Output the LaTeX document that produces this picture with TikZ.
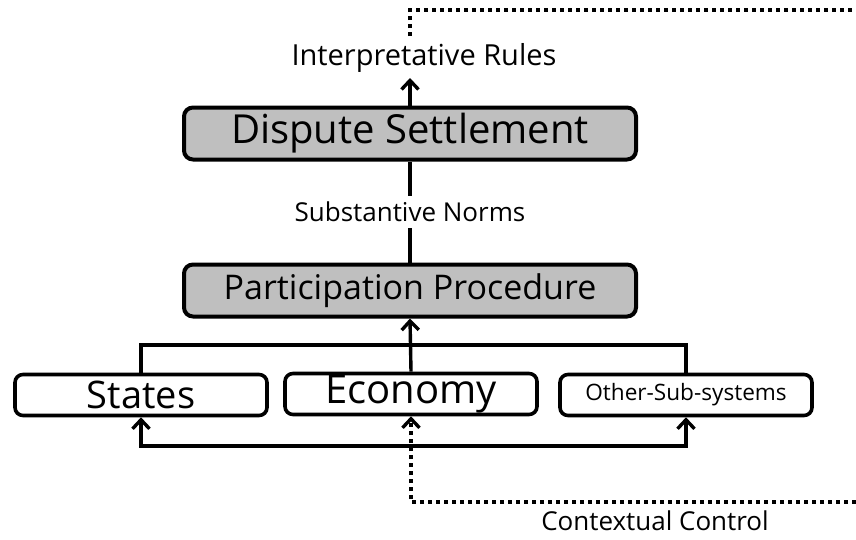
\documentclass[tikz,border=0pt]{standalone}
\usepackage{fontspec}
\setmainfont{Open Sans}
\usepackage{tikz}
\usetikzlibrary{arrows.meta}
\tikzstyle{node_gray} = [rectangle, draw, line width=4pt, rounded corners=9pt, fill=gray!50, inner sep=0pt, minimum width=452pt, minimum height=52pt]
\tikzstyle{node_white} = [rectangle, draw, line width=3.6pt, rounded corners=8pt, fill=white, inner sep=0pt, minimum width=252pt, minimum height=41pt]
\tikzstyle{node_text} = [inner sep=0pt]
\tikzstyle{edge_normal} = [line width=3.4pt]
\tikzstyle{edge_arrow} = [line width=3.4pt, -{Straight Barb[length=9pt, width=17pt, line width=3.4pt]}]
\tikzstyle{edge_dotted} = [line width=3.6pt, dash pattern=on 3.6pt off 4.4pt]
\tikzstyle{edge_dotted_arrow} = [edge_dotted, -{Straight Barb[length=9pt, width=17pt, line width=3.4pt]}]
\newcommand{\fsz}[1]{\fontsize{#1}{#1}\selectfont}

\begin{document}
\begin{tikzpicture}[x=1pt, y=-1pt]
			\useasboundingbox (0,0) rectangle (856,539);

			\node (DS) at (410,133.5) [node_gray] {\fsz{40}Dispute Settlement};
			\node (PP) at (410,290.5) [node_gray] {\fsz{34}Participation Procedure};
			\node (ST) at (141,395) [node_white] {\fsz{38}States};
			\node (EC) at (411,394) [node_white] {\fsz{40}Economy};
			\node (OS) at (686,395) [node_white] {\fsz{22.6}Other-Sub-systems};
			\node (IR) at (424,58) [node_text] {\fsz{29}Interpretative Rules};
			\node (CC) at (655,521) [node_text] {\fsz{26}Contextual Control};

			\coordinate (ir_in) at (410,78);
			\coordinate (top_start) at (410,36);
			\coordinate (top_end) at (856,10);
			\coordinate (split_top) at (410,345);
			\coordinate (split_bot) at (410,446);
			\coordinate (bot_end) at (856,502);

			\draw[edge_arrow] (DS.north) -- (ir_in);
			\draw[edge_dotted] (top_start) |- (top_end);
			\draw[edge_normal] (DS) -- (PP) node[midway, fill=white, inner xsep=2pt, inner ysep=6pt] {\fsz{26}Substantive Norms};
			\draw[edge_arrow] (EC.north) -- (PP.south);
			\draw[edge_normal] (ST.north) |- (split_top) -| (OS.north);
			\draw[edge_arrow] (split_bot) -| (ST.south);
			\draw[edge_arrow] (split_bot) -| (OS.south);
			\draw[edge_dotted_arrow] (bot_end) -| (EC.south);
		\end{tikzpicture}
\end{document}
